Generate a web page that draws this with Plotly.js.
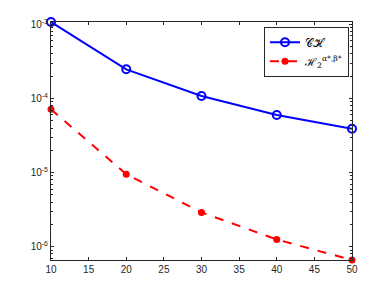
<!DOCTYPE html>
<html>
<head>
<meta charset="utf-8">
<script src="https://cdn.plot.ly/plotly-3.0.1.min.js"></script>
<style>html,body{margin:0;padding:0;background:#fff;}#chart{width:389px;height:292px;}</style>
</head>
<body>
<div id="chart"></div>
<script>
const xValues = [10, 20, 30, 40, 50];
const chValues = [1.08e-3, 2.48e-4, 1.08e-4, 6.0e-5, 3.9e-5];
const h2Values = [7.15e-5, 9.5e-6, 2.9e-6, 1.25e-6, 6.6e-7];
const seriesNames = ["𝒞ℋ", "ℋ<sub>2</sub><sup>α*,β*</sup>"];
const xTicks = [10, 15, 20, 25, 30, 35, 40, 45, 50];
const yTicks = [1e-6, 1e-5, 1e-4, 1e-3];
const yTickText = ["10<sup>-6</sup>", "10<sup>-5</sup>", "10<sup>-4</sup>", "10<sup>-3</sup>"];

const traces = [
  {x: xValues, y: chValues, name: seriesNames[0], type: 'scatter', mode: 'lines+markers', cliponaxis: false,
   line: {color: '#0000ff', width: 2},
   marker: {symbol: 'circle-open', size: 8, color: '#0000ff', line: {width: 2, color: '#0000ff'}}},
  {x: xValues, y: h2Values, name: seriesNames[1], type: 'scatter', mode: 'lines+markers', cliponaxis: false,
   line: {color: '#ff0000', width: 2, dash: 'dash'},
   marker: {symbol: 'circle', size: 7, color: '#ff0000'}}
];

const axisCommon = {
  showline: true, linecolor: '#262626', linewidth: 1, mirror: 'ticks',
  ticks: 'inside', ticklen: 3, tickcolor: '#262626', showgrid: false, zeroline: false,
  tickfont: {family: 'Liberation Sans, Arial, sans-serif', size: 10, color: '#262626'}
};

const layout = {
  width: 389, height: 292,
  margin: {l: 51, r: 37, t: 22, b: 32},
  paper_bgcolor: '#fff', plot_bgcolor: '#fff',
  showlegend: true,
  legend: {x: 0.99, y: 0.98, xanchor: 'right', yanchor: 'top',
    bgcolor: '#fff', bordercolor: '#262626', borderwidth: 1,
    font: {family: 'DejaVu Serif, serif', size: 11, color: '#000'},
    tracegroupgap: 0, itemwidth: 30},
  xaxis: Object.assign({}, axisCommon, {range: [10, 50], tickvals: xTicks, ticktext: xTicks.map(String)}),
  yaxis: Object.assign({}, axisCommon, {type: 'log',
    range: [Math.log10(6.6e-7), Math.log10(1.08e-3)],
    tickvals: yTicks, ticktext: yTickText,
    minor: {ticks: 'inside', ticklen: 2, tickcolor: '#262626', dtick: 'D1', showgrid: false}})
};

Plotly.newPlot('chart', traces, layout, {staticPlot: true, displayModeBar: false});
</script>
</body>
</html>
